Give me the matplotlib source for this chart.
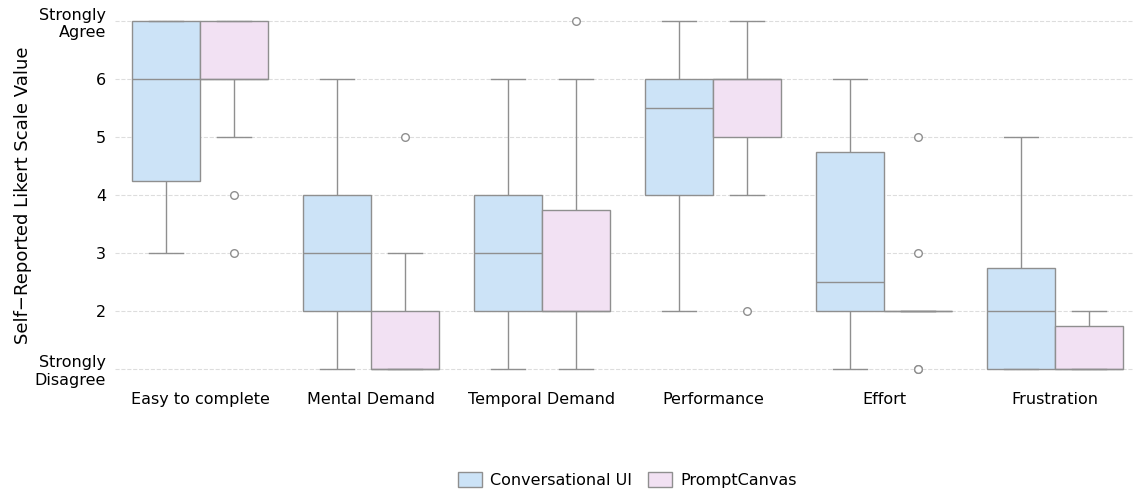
import numpy as np
import pandas as pd
import matplotlib
matplotlib.use("Agg")
import matplotlib.pyplot as plt
import seaborn as sns

# Likert responses (1 = Strongly Disagree, 7 = Strongly Agree), 14 participants each
categories = ["Easy to complete", "Mental Demand", "Temporal Demand",
              "Performance", "Effort", "Frustration"]
conditions = ["Conversational UI", "PromptCanvas"]

conv_easy = [3, 3, 4, 4, 5, 6, 6, 6, 7, 7, 7, 7, 7, 7]
conv_mental = [1, 1, 2, 2, 2, 3, 3, 3, 3, 4, 4, 5, 6, 6]
conv_temporal = [1, 2, 2, 2, 2, 3, 3, 3, 3, 4, 4, 5, 5, 6]
conv_performance = [2, 3, 4, 4, 4, 5, 5, 6, 6, 6, 6, 7, 7, 7]
conv_effort = [1, 1, 2, 2, 2, 2, 2, 3, 4, 4, 5, 5, 6, 6]
conv_frustration = [1, 1, 1, 1, 1, 2, 2, 2, 2, 2, 3, 3, 4, 5]

pc_easy = [3, 4, 5, 6, 6, 6, 6, 6, 6, 7, 7, 7, 7, 7]
pc_mental = [1, 1, 1, 1, 1, 1, 1, 1, 2, 2, 2, 3, 3, 5]
pc_temporal = [1, 2, 2, 2, 2, 2, 2, 2, 3, 3, 4, 5, 6, 7]
pc_performance = [2, 4, 5, 5, 5, 5, 6, 6, 6, 6, 6, 7, 7, 7]
pc_effort = [1, 1, 2, 2, 2, 2, 2, 2, 2, 2, 2, 2, 3, 5]
pc_frustration = [1, 1, 1, 1, 1, 1, 1, 1, 1, 1, 2, 2, 2, 2]

conv_data = [conv_easy, conv_mental, conv_temporal, conv_performance, conv_effort, conv_frustration]
pc_data = [pc_easy, pc_mental, pc_temporal, pc_performance, pc_effort, pc_frustration]

ytick_vals = [1, 2, 3, 4, 5, 6, 7]
ytick_labels = ["Strongly\nDisagree", "2", "3", "4", "5", "6", "Strongly\nAgree"]

rows = []
for cat, c_vals, p_vals in zip(categories, conv_data, pc_data):
    for v in c_vals:
        rows.append((cat, conditions[0], v))
    for v in p_vals:
        rows.append((cat, conditions[1], v))
df = pd.DataFrame(rows, columns=["Measure", "Condition", "Score"])

palette = {"Conversational UI": "#cce3f7", "PromptCanvas": "#f2e1f3"}

fig = plt.figure(figsize=(11.33, 4.93), dpi=100)
W, H = 1133, 493
ax = fig.add_axes([114.5 / W, (H - 377.7) / H, 1026 / W, 365.4 / H])

sns.boxplot(data=df, x="Measure", y="Score", hue="Condition", order=categories,
            hue_order=conditions, palette=palette, saturation=1,
            linecolor="#8f8f8f", linewidth=1.0, width=0.8, gap=0, ax=ax,
            flierprops=dict(marker="o", markersize=5.5, markerfacecolor="white",
                            markeredgecolor="#8f8f8f", markeredgewidth=1.0))

ax.set_ylim(0.85, 7.15)
ax.set_xlim(-0.5, 5.5)
ax.set_yticks(ytick_vals)
ax.set_yticklabels(ytick_labels, fontsize=11.5)
ax.tick_params(axis="x", labelsize=11.5, length=0, pad=10)
ax.tick_params(axis="y", length=0, pad=6)
ax.set_xlabel("")
ax.set_ylabel("Self\u2212Reported Likert Scale Value", fontsize=13, labelpad=2)
ax.yaxis.grid(True, linestyle="--", color="#dddddd", linewidth=0.8)
ax.set_axisbelow(True)
for s in ax.spines.values():
    s.set_visible(False)

ax.legend(loc="center", bbox_to_anchor=(0.5, -0.28), ncol=2, frameon=False,
          fontsize=11.5, handlelength=1.5, handleheight=1.1, handletextpad=0.5,
          columnspacing=1.0)

fig.savefig("out.png", dpi=100)
